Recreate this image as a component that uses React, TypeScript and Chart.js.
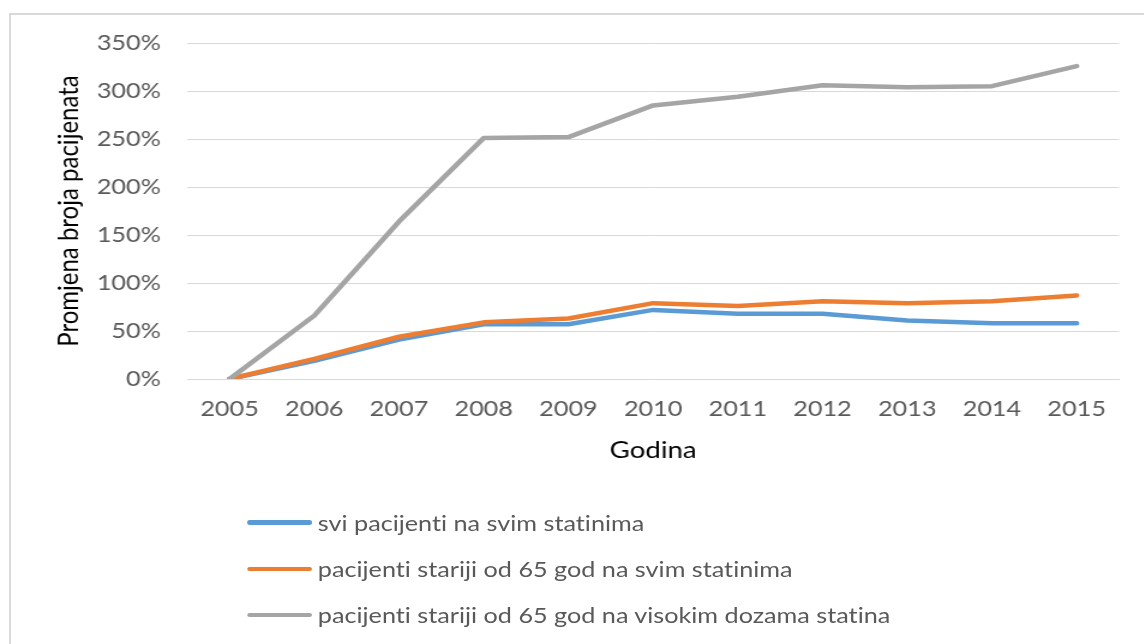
import React, { useEffect, useRef } from "react";
import { Chart, registerables } from "chart.js";

Chart.register(...registerables);

const years = ["2005", "2006", "2007", "2008", "2009", "2010", "2011", "2012", "2013", "2014", "2015"];
const allPatientsAllStatins = [0, 19, 41, 57, 57, 72, 68, 68, 61, 58, 58];
const olderAllStatins = [0, 21, 44, 59, 63, 79, 76, 81, 79, 81, 87];
const olderHighDose = [0, 66, 164, 251, 252, 285, 294, 306, 304, 305, 326];
const seriesNames = [
  "svi pacijenti na svim statinima",
  "pacijenti stariji od 65 god na svim statinima",
  "pacijenti stariji od 65 god na visokim dozama statina",
];
const seriesColors = ["#5B9BD5", "#ED7D31", "#A5A5A5"];
const yMin = 0;
const yMax = 350;
const yStep = 50;
const xTitle = "Godina";
const yTitle = "Promjena broja pacijenata";

const SX = 1.2;
const W = Math.round(1144 / SX);
const H = 480;
const FONT = "Lato, 'Open Sans', sans-serif";

export default function App() {
  const ref = useRef<HTMLCanvasElement>(null);

  useEffect(() => {
    const values = [allPatientsAllStatins, olderAllStatins, olderHighDose];
    const chart = new Chart(ref.current!, {
      type: "line",
      data: {
        labels: years,
        datasets: values.map((v, i) => ({
          label: seriesNames[i],
          data: v,
          borderColor: seriesColors[i],
          backgroundColor: seriesColors[i],
          borderWidth: 4.5,
          pointRadius: 0,
          tension: 0,
          borderCapStyle: "round" as const,
          borderJoinStyle: "round" as const,
          order: 3 - i,
        })),
      },
      options: {
        responsive: false,
        animation: false,
        devicePixelRatio: 1,
        layout: { padding: { left: 30, right: W - 932.5, top: 43, bottom: 11 } },
        plugins: { legend: { display: false }, tooltip: { enabled: false } },
        scales: {
          x: {
            offset: true,
            grid: { display: false, drawTicks: false },
            border: { display: true, color: "#d9d9d9", width: 1 },
            ticks: {
              color: "#595959",
              font: { family: FONT, size: 21 },
              padding: 18,
              maxRotation: 0,
              autoSkip: false,
            },
            title: {
              display: true,
              text: xTitle,
              color: "#000000",
              font: { family: FONT, size: 23 },
              padding: { top: 0, bottom: 5 },
            },
            afterFit: (s: any) => {
              s.height = 90;
            },
          },
          y: {
            min: yMin,
            max: yMax,
            ticks: {
              stepSize: yStep,
              callback: (v: any) => v + "%",
              color: "#595959",
              font: { family: FONT, size: 21 },
              padding: 22,
            },
            grid: { color: "#d9d9d9", lineWidth: 1, drawTicks: false },
            border: { display: false },
            title: {
              display: true,
              text: yTitle,
              color: "#000000",
              font: { family: FONT, size: 24 },
              padding: { top: 13, bottom: 0 },
            },
            afterFit: (s: any) => {
              s.width = 126;
            },
          },
        },
      },
    });
    return () => chart.destroy();
  }, []);

  const legendCenters = [522.7, 569, 615];

  return (
    <div style={{ position: "fixed", left: 0, top: 0, width: 1144, height: 644, background: "#fff", overflow: "hidden" }}>
      <div
        style={{
          position: "absolute",
          left: 9,
          top: 13,
          width: 1200,
          height: 700,
          border: "2px solid #d9d9d9",
          boxSizing: "border-box",
        }}
      />
      <div
        style={{
          position: "absolute",
          left: 0,
          top: 0,
          width: W,
          height: 644,
          transform: `scaleX(${SX})`,
          transformOrigin: "0 0",
        }}
      >
        <canvas ref={ref} width={W} height={H} style={{ width: W, height: H, display: "block" }} />
        {seriesNames.map((name, i) => (
          <div
            key={name}
            style={{
              position: "absolute",
              left: 247 / SX,
              top: legendCenters[i] - 15,
              height: 30,
              display: "flex",
              alignItems: "center",
              whiteSpace: "nowrap",
            }}
          >
            <span
              style={{
                display: "inline-block",
                width: 54,
                height: 4.5,
                borderRadius: 2.25,
                background: seriesColors[i],
              }}
            />
            <span
              style={{
                marginLeft: 5,
                fontFamily: FONT,
                fontSize: 21,
                lineHeight: "30px",
                color: "#595959",
                fontVariantLigatures: "none",
              }}
            >
              {name}
            </span>
          </div>
        ))}
      </div>
    </div>
  );
}
